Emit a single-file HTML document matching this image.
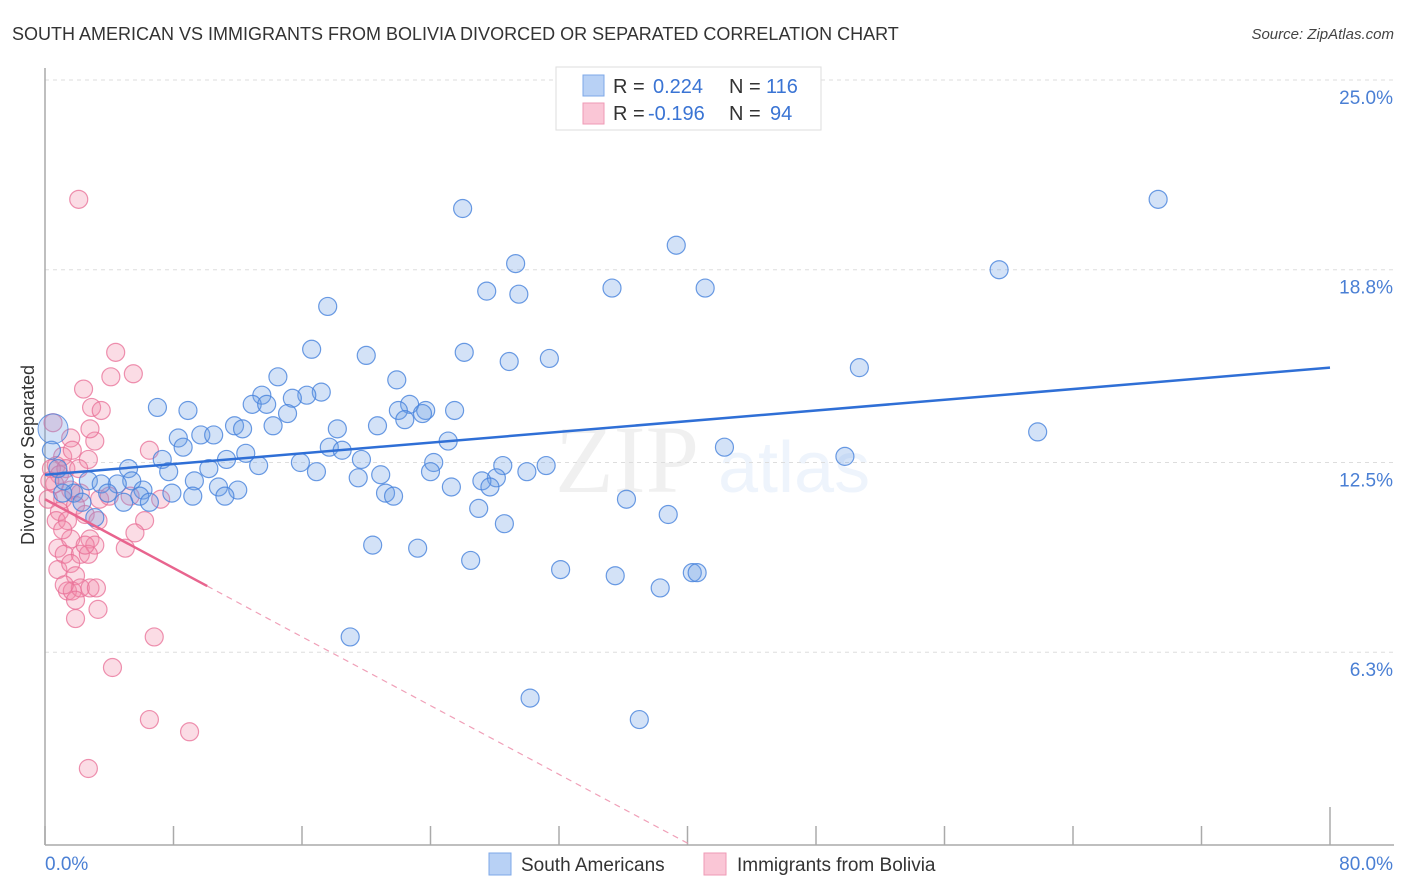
<!DOCTYPE html>
<html><head><meta charset="utf-8"><style>
body{margin:0;background:#fff;font-family:"Liberation Sans",sans-serif;}
#wrap{position:relative;width:1406px;height:892px;overflow:hidden;}
</style></head><body>
<div id="wrap">
<svg id="svg" width="1406" height="892" xmlns="http://www.w3.org/2000/svg">
<text x="12" y="40" font-size="18" fill="#333">SOUTH AMERICAN VS IMMIGRANTS FROM BOLIVIA DIVORCED OR SEPARATED CORRELATION CHART</text>
<text x="1394" y="39" font-size="15" fill="#444" font-style="italic" text-anchor="end">Source: ZipAtlas.com</text>
<text x="555" y="492" font-size="96" font-family="Liberation Serif,serif" fill="#000" fill-opacity="0.06">ZIP</text>
<text x="718" y="492" font-size="72" fill="#5b8fe0" fill-opacity="0.1">atlas</text>
<text transform="translate(34,455) rotate(-90)" font-size="18" fill="#333" text-anchor="middle">Divorced or Separated</text>
<g id="grid"></g><g id="axes"></g><g id="pink"></g><g id="blue"></g><g id="trend"></g>
<rect x="556" y="67" width="265" height="63" fill="#fff" stroke="#ddd"/>
<rect x="583" y="75" width="21" height="21" fill="#b8d1f5" stroke="#7ea8e8"/>
<rect x="583" y="103" width="21" height="21" fill="#fac6d6" stroke="#ef9ab5"/>
<g font-size="20">
<text x="613" y="93" fill="#333">R =</text><text x="653" y="93" fill="#3a74d4">0.224</text><text x="729" y="93" fill="#333">N =</text><text x="766" y="93" fill="#3a74d4">116</text>
<text x="613" y="120" fill="#333">R =</text><text x="648" y="120" fill="#3a74d4">-0.196</text><text x="729" y="120" fill="#333">N =</text><text x="770" y="120" fill="#3a74d4">94</text>
</g>
<rect x="489" y="853" width="22" height="22" fill="#b8d1f5" stroke="#7ea8e8"/>
<text x="521" y="871" font-size="19" fill="#333">South Americans</text>
<rect x="704" y="853" width="22" height="22" fill="#fac6d6" stroke="#ef9ab5"/>
<text x="737" y="871" font-size="19" fill="#333">Immigrants from Bolivia</text>
<text x="45" y="870" font-size="19" fill="#4a7fd4">0.0%</text>
<text x="1393" y="870" font-size="19" fill="#4a7fd4" text-anchor="end">80.0%</text>
</svg>
</div>
<script>
const yTicks=[25.0,18.8,12.5,6.3];
const yTickLabels=["25.0%","18.8%","12.5%","6.3%"];
const blueX=[69.3,26.0,39.3,29.3,59.4,27.5,29.5,35.3,41.1,17.6,16.6,20.0,26.1,31.4,28.9,50.7,14.5,21.9,17.2,13.5,16.3,15.4,7.0,8.9,12.9,13.8,22.7,22.0,25.5,23.7,15.1,23.5,22.4,20.7,14.2,18.2,11.8,12.3,61.8,8.3,9.7,10.5,8.6,25.1,17.7,18.5,42.3,12.5,49.8,7.3,11.3,15.9,19.7,24.2,28.5,31.2,13.3,5.2,10.2,7.7,16.9,20.9,19.5,24.0,30.0,28.1,27.2,27.7,25.3,5.4,2.7,9.3,4.5,3.5,6.1,10.8,12.0,1.8,1.1,3.9,9.2,11.2,7.9,21.2,21.7,5.9,6.5,2.3,4.9,36.2,27.0,38.8,28.6,3.1,20.4,23.2,26.5,32.1,35.5,40.3,40.6,38.3,19.0,30.2,37.0,0.4,1.2,0.8];
const blueY=[21.1,20.8,19.6,19.0,18.8,18.1,18.0,18.2,18.2,17.6,16.2,16.0,16.1,15.9,15.8,15.6,15.3,15.2,14.8,14.7,14.7,14.6,14.3,14.2,14.4,14.4,14.4,14.2,14.2,14.2,14.1,14.1,13.9,13.7,13.7,13.6,13.7,13.6,13.5,13.3,13.4,13.4,13.0,13.2,13.0,12.9,13.0,12.8,12.7,12.6,12.6,12.5,12.6,12.5,12.4,12.4,12.4,12.3,12.3,12.2,12.2,12.1,12.0,12.2,12.2,12.0,11.9,11.7,11.7,11.9,11.9,11.9,11.8,11.8,11.6,11.7,11.6,11.5,11.5,11.5,11.4,11.4,11.5,11.5,11.4,11.4,11.2,11.2,11.2,11.3,11.0,10.8,10.5,10.7,9.8,9.7,9.3,9.0,8.8,8.9,8.9,8.4,6.8,4.8,4.1,12.9,11.9,12.3];
const pinkX=[2.1,4.4,5.5,4.1,2.4,2.9,3.5,0.5,1.6,3.1,6.5,1.1,1.7,2.7,0.7,0.4,1.3,0.9,2.1,0.6,1.6,1.1,2.2,0.2,0.9,1.9,3.4,5.3,7.2,0.7,1.4,2.5,3.3,6.2,5.6,0.8,1.6,2.8,3.1,5.0,1.2,2.2,2.7,0.8,1.6,1.9,1.4,1.7,2.2,2.8,3.2,1.9,3.3,1.9,6.8,4.2,6.5,9.0,2.7,1.2,2.5,1.1,0.3,2.8,4.0];
const pinkY=[21.1,16.1,15.4,15.3,14.9,14.3,14.2,13.8,13.3,13.2,12.9,12.7,12.9,12.6,12.4,12.3,12.3,12.1,12.3,11.8,11.6,11.3,11.5,11.3,10.9,11.1,11.3,11.4,11.3,10.6,10.6,10.8,10.6,10.6,10.2,9.7,10.0,10.0,9.8,9.7,9.5,9.5,9.5,9.0,9.2,8.8,8.3,8.3,8.4,8.4,8.4,8.0,7.7,7.4,6.8,5.8,4.1,3.7,2.5,8.5,9.8,10.3,11.9,13.6,11.4];
const blueTrend=[12.1,15.6];
const pinkTrend=[11.3,-0.281];
const X0=45,X1=1330,Y0=845;
function sx(v){return X0+(v/80)*(X1-X0);}
function sy(v){return Y0-v*30.6;}
const NS="http://www.w3.org/2000/svg";
function mk(tag,attrs,parent){const e=document.createElementNS(NS,tag);for(const k in attrs)e.setAttribute(k,attrs[k]);document.getElementById(parent).appendChild(e);return e;}
yTicks.forEach((t,i)=>{
 const l=mk('line',{x1:45,x2:1394,y1:sy(t),y2:sy(t),stroke:'#ddd','stroke-dasharray':'4,4'},'grid');
 
 
 const tx=mk('text',{x:1393,y:sy(t)+24,'font-size':19,fill:'#4a7fd4','text-anchor':'end'},'grid');
 tx.textContent=yTickLabels[i];
 
 
});
const ax=mk('line',{x1:45,x2:45,y1:68,y2:845,stroke:'#aaa','stroke-width':1.5},'axes');


const bx=mk('line',{x1:45,x2:1394,y1:845,y2:845,stroke:'#aaa','stroke-width':1.5},'axes');


for(let i=0;i<=10;i++){
 const tk=mk('line',{x1:sx(i*8),x2:sx(i*8),y1:i==10?807:826,y2:845,stroke:'#aaa','stroke-width':1.5},'axes');
 
 
}
pinkX.forEach((v,i)=>{
 const c=mk('circle',{cx:sx(v),cy:sy(pinkY[i]),r:9,fill:'rgba(242,140,170,0.3)',stroke:'rgba(232,110,150,0.75)','stroke-width':1.2},'pink');
 
 
});
blueX.forEach((v,i)=>{
 const c=mk('circle',{cx:sx(v),cy:sy(blueY[i]),r:9,fill:'rgba(110,160,230,0.3)',stroke:'rgba(70,130,220,0.8)','stroke-width':1.2},'blue');
 
 
});
const big=mk('circle',{cx:sx(0.5),cy:sy(13.6),r:15,fill:'rgba(110,160,230,0.3)',stroke:'rgba(70,130,220,0.8)'},'blue');


const bt=mk('line',{x1:sx(0),y1:sy(blueTrend[0]),x2:sx(80),y2:sy(blueTrend[1]),stroke:'#2f6fd6','stroke-width':2.5},'trend');


const ps=mk('line',{x1:sx(0),y1:sy(pinkTrend[0]),x2:sx(10.1),y2:sy(pinkTrend[0]+pinkTrend[1]*10.1),stroke:'#e8648e','stroke-width':2.5},'trend');


const xEnd=-pinkTrend[0]/pinkTrend[1];
const pd=mk('line',{x1:sx(10.1),y1:sy(pinkTrend[0]+pinkTrend[1]*10.1),x2:sx(xEnd),y2:sy(0),stroke:'#f0a0b8','stroke-width':1.2,'stroke-dasharray':'6,5'},'trend');


</script>
</body></html>
